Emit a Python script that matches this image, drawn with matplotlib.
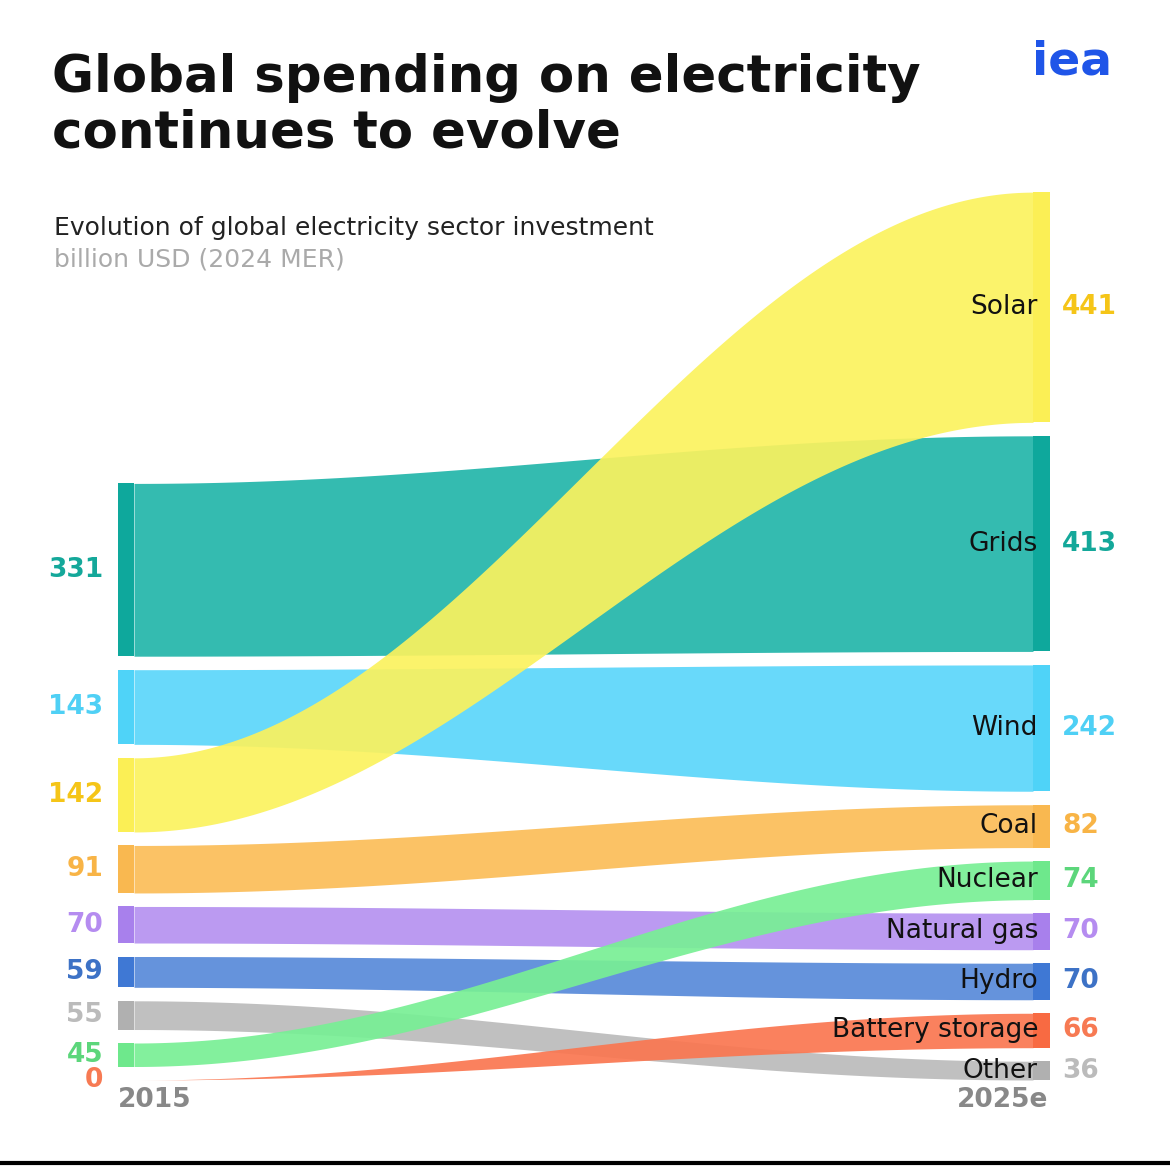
import numpy as np
import matplotlib
matplotlib.use("Agg")
import matplotlib.pyplot as plt

names = ["Grids", "Wind", "Solar", "Coal", "Natural gas", "Hydro", "Other", "Nuclear", "Battery storage"]
v2015 = [331, 143, 142, 91, 70, 59, 55, 45, 0]
v2025 = [413, 242, 441, 82, 70, 70, 36, 74, 66]
left_order = ["Grids", "Wind", "Solar", "Coal", "Natural gas", "Hydro", "Other", "Nuclear", "Battery storage"]
right_order = ["Solar", "Grids", "Wind", "Coal", "Nuclear", "Natural gas", "Hydro", "Battery storage", "Other"]
band_col = {"Grids": "#22b5aa", "Wind": "#5bd6fa", "Solar": "#fbf25e", "Coal": "#fbbd58",
            "Natural gas": "#b592f0", "Hydro": "#588ad9", "Other": "#bbbbbb",
            "Nuclear": "#78ef95", "Battery storage": "#fa7650"}
bar_col = {"Grids": "#0ea89c", "Wind": "#4fd3f8", "Solar": "#fbef55", "Coal": "#f9b850",
           "Natural gas": "#a880ec", "Hydro": "#3f78d4", "Other": "#b0b0b0",
           "Nuclear": "#6ee88c", "Battery storage": "#f86a42"}
lab_col = {"Grids": "#14a89a", "Wind": "#4fd0f5", "Solar": "#f5c518", "Coal": "#f8b446",
           "Natural gas": "#b58cf0", "Hydro": "#3d72c6", "Other": "#bbbbbb",
           "Nuclear": "#5cd67b", "Battery storage": "#f77a53"}

S = 0.522; GAP = 13.5; BOTTOM = 1080
def stack(order, vals):
    pos = {}
    y = BOTTOM
    for n in reversed(order):
        h = vals[n] * S
        pos[n] = (y - h, y)
        y = y - h - GAP
    return pos
d15 = dict(zip(names, v2015)); d25 = dict(zip(names, v2025))
L = stack(left_order, d15); R = stack(right_order, d25)

fig = plt.figure(figsize=(11.7, 11.66), dpi=100)
ax = fig.add_axes([0, 0, 1, 1])
ax.set_xlim(0, 1170); ax.set_ylim(1166, 0); ax.axis("off")

x0, x1 = 134, 1033
xs = np.linspace(x0, x1, 300)
t = (xs - x0) / (x1 - x0)
s = (1 - np.cos(np.pi * t)) / 2
draw = ["Grids", "Wind", "Coal", "Natural gas", "Hydro", "Other", "Solar", "Nuclear", "Battery storage"]
for n in draw:
    top = L[n][0] + (R[n][0] - L[n][0]) * s
    bot = L[n][1] + (R[n][1] - L[n][1]) * s
    ax.fill_between(xs, top, bot, color=band_col[n], alpha=0.92, lw=0)
    if d15[n] > 0:
        ax.add_patch(plt.Rectangle((118, L[n][0]), 16, L[n][1] - L[n][0], color=bar_col[n], lw=0))
    ax.add_patch(plt.Rectangle((1033, R[n][0]), 17, R[n][1] - R[n][0], color=bar_col[n], lw=0))
    ym = (L[n][0] + L[n][1]) / 2
    ax.text(103, ym, str(d15[n]), ha="right", va="center", fontsize=19, fontweight="bold", color=lab_col[n])
    yr = (R[n][0] + R[n][1]) / 2
    ax.text(1062, yr, str(d25[n]), ha="left", va="center", fontsize=19, fontweight="bold", color=lab_col[n])
    ax.text(1038, yr, n, ha="right", va="center", fontsize=19, color="#111111")

ax.text(118, 1100, "2015", ha="left", va="center", fontsize=19, fontweight="bold", color="#888888")
ax.text(1048, 1100, "2025e", ha="right", va="center", fontsize=19, fontweight="bold", color="#888888")
ax.text(52, 106, "Global spending on electricity\ncontinues to evolve", ha="left", va="center",
        fontsize=37, fontweight="bold", color="#111111", linespacing=1.15)
ax.text(54, 228, "Evolution of global electricity sector investment", fontsize=18, va="center", color="#222222")
ax.text(54, 259, "billion USD (2024 MER)", fontsize=18, va="center", color="#aaaaaa")
ax.text(1112, 62, "iea", ha="right", va="center", fontsize=34, fontweight="bold", color="#1f55e8")
ax.plot([0, 1170], [1163, 1163], color="black", lw=3)
fig.savefig("out.png", dpi=100, facecolor="white")
